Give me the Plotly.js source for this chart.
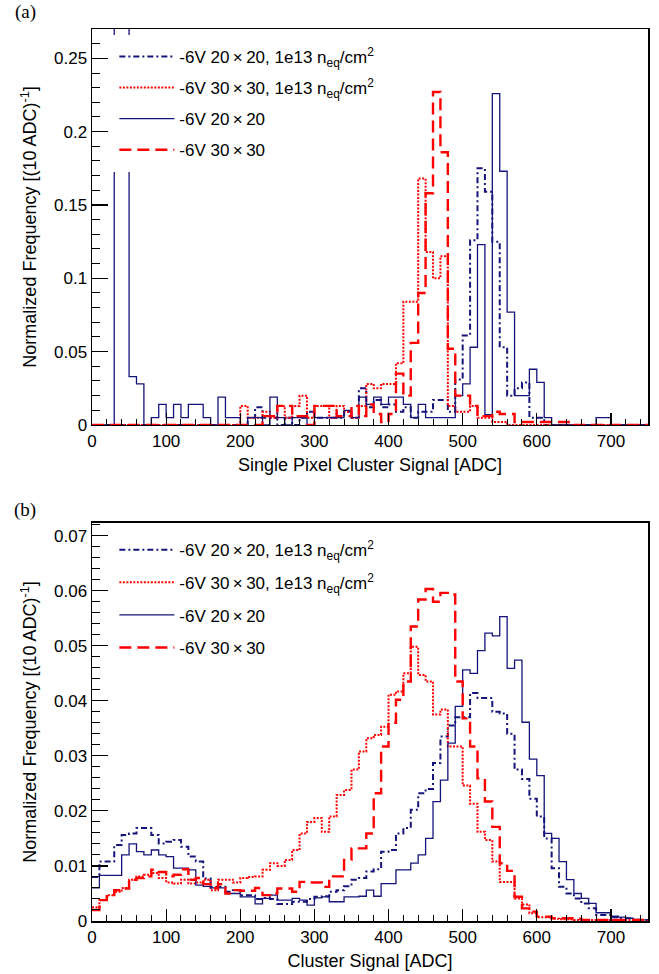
<!DOCTYPE html>
<html><head><meta charset="utf-8">
<script src="https://cdn.plot.ly/plotly-3.0.1.min.js"></script>
<style>html,body{margin:0;padding:0;background:#fff}</style>
</head><body><div id="chart" style="width:659px;height:974px"></div>
<script>
// bin edges in ADC (10 ADC bins)
const binEdges = [0,10,20,30,40,50,60,70,80,90,100,110,120,130,140,150,160,170,180,190,200,210,220,230,240,250,260,270,280,290,300,310,320,330,340,350,360,370,380,390,400,410,420,430,440,450,460,470,480,490,500,510,520,530,540,550,560,570,580,590,600,610,620,630,640,650,660,670,680,690,700,710,720,730,740,750];

const seriesNames = [
  '-6V 20\u2009\u00d7\u200920, 1e13 n<sub>eq</sub>/cm<sup>2</sup>',
  '-6V 30\u2009\u00d7\u200930, 1e13 n<sub>eq</sub>/cm<sup>2</sup>',
  '-6V 20\u2009\u00d7\u200920',
  '-6V 30\u2009\u00d7\u200930'
];

// (a) Single pixel cluster signal
const a_irr20 = [0,0,0,0,0,0,0,0,0,0, 0,0,0,0,0,0,0,0,0,0,
  0,0.005,0.012,0.005,0.005,0,0.005,0,0.005,0.009,
  0.005,0.005,0.005,0.005,0.009,0.005,0.025,0.012,0.017,0.012,
  0.014,0.009,0.012,0.005,0.009,0.009,0.017,0.017,0.009,0.031,
  0.061,0.126,0.175,0.159,0.125,0.053,0.02,0.025,0.029,0.005,
  0.005,0,0,0,0,0,0,0,0,0, 0,0,0,0,0];
const a_irr30 = [0,0,0,0,0,0,0,0,0,0, 0,0,0,0,0,0,0,0,0,0,
  0.013,0.005,0.005,0.009,0.005,0.013,0.005,0.013,0.02,0.005,
  0.013,0.013,0.005,0.013,0.009,0.005,0.013,0.028,0.025,0.028,
  0.028,0.042,0.084,0.084,0.168,0.118,0.1,0.115,0.013,0.009,
  0.009,0.013,0.005,0.005,0.002,0.002,0,0,0,0,
  0,0,0,0,0,0,0,0,0,0, 0,0,0,0,0];
const a_std20 = [0,0,0,0.35,0.3,0.033,0.028,0,0.005,0.014,
  0.005,0.014,0.005,0.014,0.014,0.005,0,0.019,0.005,0.005,
  0,0.005,0.005,0,0.019,0.005,0,0.005,0.005,0,
  0.005,0.005,0.005,0.005,0.01,0.005,0.019,0.014,0.019,0.014,
  0.019,0.019,0.014,0.005,0.014,0.005,0.005,0.005,0.005,0.02,
  0.028,0.053,0.123,0.007,0.226,0.173,0.077,0.02,0.02,0.038,
  0.029,0.005,0,0,0,0,0,0,0.005,0.005, 0,0,0,0,0];
const a_std30 = [0,0,0,0,0,0,0,0,0,0, 0,0,0,0,0,0,0,0,0,0,
  0,0,0,0.006,0.006,0.013,0.013,0.006,0.006,0,
  0.013,0.013,0.013,0.006,0.006,0.013,0.006,0.014,0.0075,0.002,
  0.0075,0.035,0.02,0.056,0.09,0.158,0.227,0.186,0.052,0.02,
  0.02,0.013,0.006,0.006,0.009,0.0075,0.0075,0.002,0.002,0.002,
  0.002,0.002,0.002,0.002,0.002,0,0,0,0,0, 0,0,0,0,0];

// (b) Cluster signal
const b_irr20 = [0.008,0.0108,0.0108,0.0138,0.0156,0.0159,0.0169,0.0169,0.0156,0.0141,
  0.0144,0.0147,0.0135,0.0117,0.0108,0.0077,0.0062,0.0062,0.0053,0.0056,
  0.0047,0.0047,0.004,0.0042,0.004,0.0031,0.0031,0.0035,0.0035,0.004,
  0.0044,0.0045,0.0053,0.0056,0.0063,0.0075,0.0078,0.009,0.0094,0.0126,
  0.0129,0.0159,0.0169,0.0202,0.0232,0.024,0.0287,0.0335,0.0355,0.037,
  0.037,0.0414,0.0405,0.0405,0.038,0.0377,0.034,0.0275,0.0258,0.0222,
  0.019,0.015,0.0096,0.0062,0.005,0.0041,0.0032,0.0023,0.0011,0.0011,
  0.0007,0.0005,0.0005,0.0002,0.0002];
const b_irr30 = [0.0025,0.0038,0.0047,0.0053,0.006,0.0075,0.0081,0.0084,0.0087,0.0078,
  0.007,0.0068,0.0075,0.0068,0.007,0.0075,0.0056,0.0075,0.0075,0.007,
  0.0078,0.008,0.0081,0.0093,0.0105,0.01,0.0111,0.0129,0.0159,0.018,
  0.0187,0.0162,0.019,0.0229,0.0238,0.0275,0.0308,0.0332,0.0338,0.0353,
  0.0411,0.0417,0.045,0.0498,0.0447,0.0435,0.0375,0.0384,0.0317,0.0317,
  0.0246,0.0213,0.0162,0.0147,0.0108,0.0071,0.0071,0.0041,0.003,0.0014,
  0.0007,0.0007,0.0004,0.0003,0.0003,0.0002,0.0002,0.0002,0.0002,0.0002,
  0.0002,0.0001,0.0002,0.0001,0.0001];
const b_std20 = [0.006,0.0083,0.0083,0.0083,0.012,0.014,0.0126,0.012,0.0129,0.012,
  0.0117,0.0096,0.0096,0.0093,0.0065,0.0063,0.006,0.006,0.005,0.005,
  0.0044,0.0044,0.0031,0.0041,0.0047,0.0038,0.0038,0.0041,0.0038,0.0029,
  0.0042,0.0044,0.0035,0.0035,0.0044,0.0044,0.0045,0.0056,0.0045,0.0068,
  0.0068,0.0093,0.0093,0.0105,0.012,0.015,0.0217,0.0256,0.0323,0.039,
  0.0456,0.045,0.0491,0.0523,0.0518,0.0553,0.0459,0.0474,0.0361,0.0294,
  0.0264,0.0159,0.015,0.0108,0.0075,0.005,0.0041,0.0032,0.0015,0.0015,
  0.0009,0.0007,0.0005,0.0003,0.0002];
const b_std30 = [0.002,0.0038,0.0045,0.0056,0.0059,0.0075,0.0078,0.0081,0.0093,0.0089,
  0.0081,0.0084,0.0094,0.0075,0.0078,0.0067,0.006,0.0067,0.005,0.0056,
  0.0055,0.0055,0.006,0.0047,0.005,0.0059,0.0059,0.0053,0.0071,0.007,
  0.007,0.0062,0.0081,0.0081,0.0111,0.0132,0.0132,0.0159,0.0232,0.0317,
  0.036,0.0402,0.0435,0.0535,0.0584,0.0603,0.058,0.0596,0.0593,0.0435,
  0.0368,0.0317,0.0259,0.0217,0.0171,0.0105,0.0091,0.0044,0.0023,0.0017,
  0.0008,0.0008,0.0005,0.0005,0.0005,0.0004,0.0002,0.0002,0.0002,0.0002,
  0.0002,0.0002,0.0002,0.0002,0.0002];

const NAVY = '#14147a', RED = '#ff0000';
const styles = [
  {color: NAVY, width: 2, dash: '6px,3px,2px,3px'},
  {color: RED, width: 2, dash: '2px,1.5px'},
  {color: NAVY, width: 1.3, dash: 'solid'},
  {color: RED, width: 2.4, dash: '12px,6px'}
];

function stepY(v){ return v.concat([v[v.length-1]]); }

const traces = [];
const panels = [
  {xa:'x', ya:'y', lg:'legend', data:[a_irr20, a_irr30, a_std20, a_std30]},
  {xa:'x2', ya:'y2', lg:'legend2', data:[b_irr20, b_irr30, b_std20, b_std30]}
];
panels.forEach((p, pi) => {
  p.data.forEach((vals, i) => {
    traces.push({
      type:'scatter', mode:'lines', x: binEdges, y: stepY(vals),
      xaxis:p.xa, yaxis:p.ya, legend:p.lg,
      name: seriesNames[i], legendgroup: 'g'+pi+'_'+i,
      line: Object.assign({shape:'hv'}, styles[i]),
      hoverinfo:'skip'
    });
  });
});

const FONT = 'Liberation Sans, Arial, Helvetica, sans-serif';
const SERIF = 'Liberation Serif, Times New Roman, serif';
function axis(extra){
  return Object.assign({
    showline:true, linecolor:'#000', linewidth:1.5, mirror:true,
    ticks:'inside', tickcolor:'#000', tickwidth:1.2,
    showgrid:false, zeroline:false, fixedrange:true,
    tickfont:{family:FONT, size:17, color:'#000'}
  }, extra);
}
const xCommon = {range:[0,750], tick0:0, dtick:100, ticklen:12,
  minor:{dtick:20, ticklen:6, ticks:'inside', tickcolor:'#000', tickwidth:1}};
const legendCommon = {xref:'paper', yref:'paper', xanchor:'left', yanchor:'top',
  bgcolor:'#ffffff', bordercolor:'#ffffff', borderwidth:4,
  font:{family:FONT, size:17, color:'#000'},
  traceorder:'grouped', itemwidth:55, itemclick:false};

const layout = {
  width:659, height:974, showlegend:true,
  paper_bgcolor:'#fff', plot_bgcolor:'#fff',
  margin:{l:92, r:11, t:29, b:53},
  xaxis: axis(Object.assign({}, xCommon, {anchor:'y',
    title:{text:'Single Pixel Cluster Signal [ADC]', font:{family:FONT, size:18, color:'#000'}, standoff:8}})),
  yaxis: axis({anchor:'x', domain:[0.5561,1], range:[0,0.27], tick0:0, dtick:0.05, ticklen:16,
    minor:{dtick:0.01, ticklen:8, ticks:'inside', tickcolor:'#000', tickwidth:1},
    title:{text:'Normalized Frequency [(10 ADC)<sup>-1</sup>]', font:{family:FONT, size:18, color:'#000'}, standoff:12}}),
  xaxis2: axis(Object.assign({}, xCommon, {anchor:'y2',
    title:{text:'Cluster Signal [ADC]', font:{family:FONT, size:18, color:'#000'}, standoff:8}})),
  yaxis2: axis({anchor:'x2', domain:[0,0.4462], range:[0,0.0723], tick0:0, dtick:0.01, ticklen:16,
    minor:{dtick:0.002, ticklen:8, ticks:'inside', tickcolor:'#000', tickwidth:1},
    title:{text:'Normalized Frequency [(10 ADC)<sup>-1</sup>]', font:{family:FONT, size:18, color:'#000'}, standoff:12}}),
  legend: Object.assign({}, legendCommon, {x:0.033, y:0.9934, tracegroupgap:6}),
  legend2: Object.assign({}, legendCommon, {x:0.033, y:0.4404, tracegroupgap:7.5}),
  annotations:[
    {text:'(a)', xref:'paper', yref:'paper', x:-0.12, y:1.019, showarrow:false,
     font:{family:SERIF, size:19, color:'#000'}, xanchor:'center', yanchor:'middle'},
    {text:'(b)', xref:'paper', yref:'paper', x:-0.12, y:0.4608, showarrow:false,
     font:{family:SERIF, size:19, color:'#000'}, xanchor:'center', yanchor:'middle'}
  ]
};

Plotly.newPlot('chart', traces, layout, {staticPlot:true, displayModeBar:false});
</script>
</body></html>
